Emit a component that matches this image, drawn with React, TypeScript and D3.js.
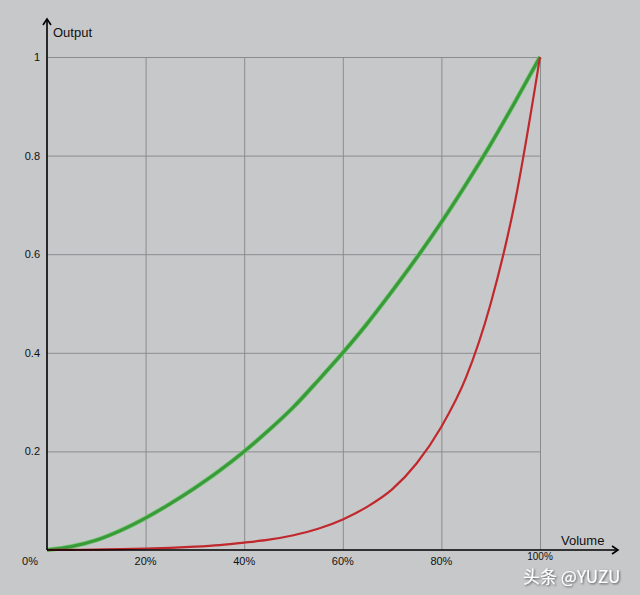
import React, { useRef, useEffect } from "react";
import * as d3 from "d3";

// volume in %, output 0..1
const volume = [0, 5, 10, 15, 20, 25, 30, 35, 40, 45, 50, 55, 60, 65, 70, 75, 80, 85, 90, 95, 100];
const greenOut = [0, 0.007, 0.02, 0.04, 0.065, 0.094, 0.126, 0.161, 0.2, 0.243, 0.29, 0.344, 0.4, 0.46, 0.525, 0.593, 0.665, 0.742, 0.823, 0.91, 1];
const redOut = [0, 0.0003, 0.0009, 0.0017, 0.003, 0.0045, 0.0068, 0.01, 0.015, 0.021, 0.03, 0.043, 0.062, 0.088, 0.123, 0.176, 0.25, 0.35, 0.5, 0.71, 1];
const xTicks = [0, 20, 40, 60, 80, 100];
const yTicks = [0, 0.2, 0.4, 0.6, 0.8, 1];

const W = 640;
const H = 595;

const App: React.FC = () => {
    const ref = useRef<SVGSVGElement | null>(null);

    useEffect(() => {
        if (!ref.current) return;
        const svg = d3.select(ref.current);
        svg.selectAll("*").remove();

        const x = d3.scaleLinear().domain([0, 100]).range([47, 540]);
        const y = d3.scaleLinear().domain([0, 1]).range([550, 57]);
        const font = "Arial, 'Liberation Sans', sans-serif";

        svg.append("rect").attr("width", W).attr("height", H).attr("fill", "#c7c8ca");

        const defs = svg.append("defs");
        defs.append("filter").attr("id", "shadow")
            .append("feDropShadow")
            .attr("dx", 1).attr("dy", 1).attr("stdDeviation", 0.8)
            .attr("flood-color", "#000").attr("flood-opacity", 0.6);

        // grid
        const grid = svg.append("g").attr("stroke", "#8c8c8e").attr("stroke-width", 1);
        xTicks.filter(t => t > 0).forEach(t => {
            grid.append("line")
                .attr("x1", x(t) + 0.5).attr("x2", x(t) + 0.5)
                .attr("y1", y(1)).attr("y2", y(0));
        });
        yTicks.filter(t => t > 0).forEach(t => {
            grid.append("line")
                .attr("x1", x(0)).attr("x2", x(100))
                .attr("y1", y(t) + 0.5).attr("y2", y(t) + 0.5);
        });

        // curves
        const line = d3.line<number>()
            .x((_, i) => x(volume[i]))
            .y(d => y(d))
            .curve(d3.curveMonotoneX);

        svg.append("path").datum(greenOut)
            .attr("fill", "none").attr("stroke", "#6cc46c")
            .attr("stroke-width", 4.5).attr("d", line);
        svg.append("path").datum(greenOut)
            .attr("fill", "none").attr("stroke", "#3a9a3a")
            .attr("stroke-width", 3).attr("d", line);
        svg.append("path").datum(redOut)
            .attr("fill", "none").attr("stroke", "#c0282c")
            .attr("stroke-width", 2.2).attr("d", line);

        // axes with arrows
        const ax = svg.append("g").attr("stroke", "#000").attr("stroke-width", 1.6).attr("fill", "none");
        ax.append("line").attr("x1", x(0)).attr("x2", x(0)).attr("y1", y(0)).attr("y2", 19);
        ax.append("path").attr("d", `M${x(0) - 4},25 L${x(0)},19 L${x(0) + 4},25`);
        ax.append("line").attr("x1", x(0)).attr("x2", 618).attr("y1", y(0)).attr("y2", y(0));
        ax.append("path").attr("d", `M612,${y(0) - 4} L618,${y(0)} L612,${y(0) + 4}`);

        // tick labels
        svg.append("g").selectAll("text").data(yTicks.filter(t => t > 0)).enter()
            .append("text")
            .attr("x", 40).attr("y", d => y(d) + 4)
            .attr("text-anchor", "end")
            .attr("font-family", font).attr("font-size", 11).attr("fill", "#111")
            .text(d => d3.format("")(+d.toFixed(1)));

        svg.append("g").selectAll("text").data(xTicks).enter()
            .append("text")
            .attr("x", d => (d === 0 ? 30 : x(d)))
            .attr("y", d => (d === 100 ? 560 : 565))
            .attr("text-anchor", "middle")
            .attr("font-family", font).attr("font-size", d => (d === 100 ? 10 : 11)).attr("fill", "#111")
            .text(d => `${d}%`);

        svg.append("text").attr("x", 53).attr("y", 37)
            .attr("font-family", font).attr("font-size", 13).attr("fill", "#111")
            .text("Output");
        svg.append("text").attr("x", 561).attr("y", 545)
            .attr("font-family", font).attr("font-size", 13).attr("fill", "#111")
            .text("Volume");

        svg.append("text").attr("x", 523).attr("y", 583)
            .attr("font-family", "'Noto Sans CJK SC', sans-serif").attr("font-size", 17)
            .attr("fill", "#fff").attr("filter", "url(#shadow)")
            .text("头条 @YUZU");
    }, []);

    return (
        <svg
            ref={ref}
            width={W}
            height={H}
            style={{ position: "absolute", left: 0, top: 0, display: "block" }}
        />
    );
};

export default App;
